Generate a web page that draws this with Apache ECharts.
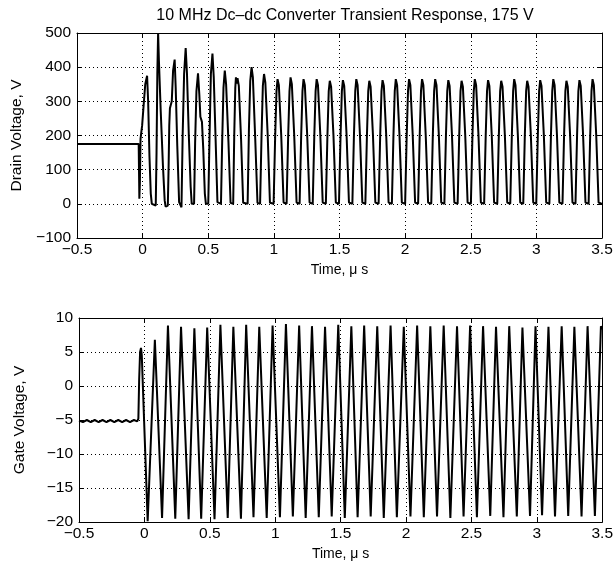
<!DOCTYPE html>
<html>
<head>
<meta charset="utf-8">
<script src="https://cdn.jsdelivr.net/npm/echarts@6/dist/echarts.min.js"></script>
<style>
html,body{margin:0;padding:0;background:#fff;}
#c{width:616px;height:569px;}
</style>
</head>
<body>
<div id="c"></div>
<script>
// ---- Data ----
var titleText = '10 MHz Dc\u2013dc Converter Transient Response, 175 V';
var timeName = 'Time, \u03bc s';
var drainName = 'Drain Voltage, V';
var gateName = 'Gate Voltage, V';

// time axis (µs)
var timeMin = -0.5, timeMax = 3.5, timeStep = 0.5;
// drain axis (V)
var drainMin = -100, drainMax = 500, drainStep = 100;
// gate axis (V)
var gateMin = -20, gateMax = 10, gateStep = 5;

// Drain voltage [time µs, V]
var drainData = [
[-0.5,175],[-0.03,175],[-0.027,80],[-0.025,15],[-0.021,60],[-0.016,190],[-0.010,210],[-0.004,228],[0.008,290],[0.020,350],[0.034,375],[0.042,300],[0.052,140],[0.062,30],[0.070,0],
[0.100,-5],[0.106,150],[0.112,380],[0.118,500],[0.124,420],[0.138,270],[0.155,110],[0.168,10],[0.175,-8],
[0.192,-5],[0.198,110],[0.203,230],[0.208,280],[0.216,275],[0.222,300],[0.232,390],[0.244,422],[0.252,340],[0.264,170],[0.278,5],
[0.296,-10],[0.305,200],[0.316,380],[0.328,456],[0.338,380],[0.352,200],[0.366,50],[0.374,0],
[0.392,0],[0.400,180],[0.410,330],[0.422,382],[0.432,320],[0.440,255],[0.452,240],[0.462,160],[0.474,30],[0.482,0],
[0.500,0],[0.510,200],[0.520,380],[0.532,440],[0.542,370],[0.556,190],[0.570,5],
[0.597,0],[0.606,180],[0.616,340],[0.626,390],[0.636,350],[0.654,180],[0.670,3],
[0.690,0],[0.698,200],[0.706,340],[0.711,370],[0.717,352],[0.723,368],[0.733,345],[0.750,190],[0.766,3],
[0.800,0],[0.810,220],[0.820,360],[0.830,400],[0.840,370],[0.858,190],[0.875,3],
[0.895,0],[0.906,200],[0.916,345],[0.925,380],[0.935,355],[0.953,200],[0.970,3],
[0.998,0],[1.010,200],[1.020,330],[1.028,365],[1.038,347],[1.056,200],[1.074,4],
[1.097,0],[1.109,200],[1.119,330],[1.127,370],[1.137,350],[1.155,200],[1.173,4],
[1.196,0],[1.208,200],[1.218,330],[1.226,365],[1.236,347],[1.254,200],[1.272,4],
[1.296,0],[1.308,200],[1.318,330],[1.326,365],[1.336,347],[1.354,200],[1.372,4],
[1.396,0],[1.408,200],[1.418,330],[1.426,360],[1.436,343],[1.454,200],[1.472,4],
[1.496,0],[1.508,200],[1.518,330],[1.526,362],[1.536,345],[1.554,200],[1.572,4],
[1.598,0],[1.610,200],[1.620,330],[1.628,365],[1.638,347],[1.656,200],[1.674,4],
[1.697,0],[1.709,200],[1.719,330],[1.727,360],[1.737,343],[1.755,200],[1.773,4],
[1.798,0],[1.810,200],[1.820,330],[1.828,362],[1.838,345],[1.856,200],[1.874,4],
[1.899,0],[1.911,200],[1.921,330],[1.929,365],[1.939,347],[1.957,200],[1.975,4],
[2.000,0],[2.012,200],[2.022,330],[2.030,365],[2.040,347],[2.058,200],[2.076,4],
[2.099,0],[2.111,200],[2.121,330],[2.129,365],[2.139,347],[2.157,200],[2.175,4],
[2.199,0],[2.211,200],[2.221,330],[2.229,365],[2.239,347],[2.257,200],[2.275,4],
[2.299,0],[2.311,200],[2.321,330],[2.329,362],[2.339,345],[2.357,200],[2.375,4],
[2.400,0],[2.412,200],[2.422,330],[2.430,360],[2.440,343],[2.458,200],[2.476,4],
[2.501,0],[2.513,200],[2.523,330],[2.531,365],[2.541,347],[2.559,200],[2.577,4],
[2.602,0],[2.614,200],[2.624,330],[2.632,362],[2.642,345],[2.660,200],[2.678,4],
[2.702,0],[2.714,200],[2.724,330],[2.732,360],[2.742,343],[2.760,200],[2.778,4],
[2.801,0],[2.813,200],[2.823,330],[2.831,365],[2.841,347],[2.859,200],[2.877,4],
[2.900,0],[2.912,200],[2.922,330],[2.930,360],[2.940,343],[2.958,200],[2.976,4],
[2.999,0],[3.011,200],[3.021,330],[3.029,362],[3.039,345],[3.057,200],[3.075,4],
[3.099,0],[3.111,200],[3.121,330],[3.129,365],[3.139,347],[3.157,200],[3.175,4],
[3.199,0],[3.211,200],[3.221,330],[3.229,360],[3.239,343],[3.257,200],[3.275,4],
[3.298,0],[3.310,200],[3.320,330],[3.328,362],[3.338,345],[3.356,200],[3.374,4],
[3.398,0],[3.410,200],[3.420,330],[3.428,365],[3.438,347],[3.456,200],[3.474,4],[3.5,0]
];

// Gate voltage [time µs, V]
var gateData = [
[-0.5,-5.1],[-0.47,-5.3],[-0.44,-5.0],[-0.41,-5.3],[-0.38,-5.0],[-0.35,-5.3],[-0.32,-5.0],[-0.29,-5.3],[-0.26,-5.0],[-0.23,-5.3],[-0.20,-5.0],[-0.17,-5.3],[-0.14,-5.0],[-0.11,-5.3],[-0.08,-5.0],[-0.055,-5.2],
[-0.046,-4.8],[-0.040,1.0],[-0.033,5.0],[-0.026,5.6],[-0.020,4.5],
[0.025,-19.9],[0.080,6.8],[0.135,-19.4],[0.180,8.9],[0.236,-19.5],[0.280,8.7],[0.338,-19.6],[0.382,8.5],[0.434,-19.5],[0.480,8.6],
[0.536,-19.6],[0.581,9.0],[0.637,-19.4],[0.680,8.7],[0.738,-19.5],[0.778,9.0],[0.834,-19.3],[0.878,8.7],[0.935,-19.4],[0.980,8.9],
[1.036,-19.3],[1.082,9.1],[1.135,-19.2],[1.183,8.9],[1.233,-19.4],[1.281,8.8],[1.333,-19.3],[1.381,8.7],[1.432,-19.2],[1.482,9.0],
[1.532,-19.4],[1.582,8.8],[1.630,-19.3],[1.680,8.9],[1.730,-19.2],[1.780,8.8],[1.830,-19.4],[1.882,8.9],[1.930,-19.3],[1.983,8.7],
[2.034,-19.2],[2.085,8.9],[2.136,-19.3],[2.186,8.8],[2.237,-19.2],[2.288,8.9],[2.339,-19.4],[2.390,8.8],[2.440,-19.2],[2.490,8.9],
[2.542,-19.3],[2.589,8.8],[2.644,-19.1],[2.688,8.7],[2.745,-19.3],[2.789,8.8],[2.847,-19.2],[2.890,8.6],[2.948,-19.1],[2.990,8.8],
[3.040,-19.0],[3.089,8.7],[3.139,-19.2],[3.190,8.8],[3.240,-19.1],[3.287,8.7],[3.342,-19.2],[3.388,8.8],[3.444,-19.1],[3.490,8.8],[3.5,8.3]
];

// ---- Chart ----
var FONT = 'Liberation Sans, Arial, Helvetica, sans-serif';
function fmt(v){ return String(v).replace('-', '\u2212'); }
var dotted = {show:true, lineStyle:{color:'#000', type:[1,3], width:1}};
var tickIn = {show:true, inside:true, length:5, lineStyle:{color:'#000', width:1}};
var axLine = {show:true, onZero:false, lineStyle:{color:'#000', width:1}};
var lab = {color:'#000', fontFamily:FONT, fontSize:15.5, formatter:fmt};

function xMain(gi){
  return {type:'value', gridIndex:gi, min:timeMin, max:timeMax, interval:timeStep, position:'bottom',
    name:timeName, nameLocation:'middle', nameGap:25,
    nameTextStyle:{color:'#000', fontFamily:FONT, fontSize:14},
    axisLine:axLine, axisTick:tickIn, axisLabel:Object.assign({margin:4}, lab), splitLine:dotted};
}
function xMirror(gi){
  return {type:'value', gridIndex:gi, min:timeMin, max:timeMax, interval:timeStep, position:'top',
    axisLine:axLine, axisTick:tickIn, axisLabel:{show:false}, splitLine:{show:false}};
}
function yMain(gi, mn, mx, st, nm, gap){
  return {type:'value', gridIndex:gi, min:mn, max:mx, interval:st, position:'left',
    name:nm, nameLocation:'middle', nameRotate:90, nameGap:gap,
    nameTextStyle:{color:'#000', fontFamily:FONT, fontSize:15.5},
    axisLine:axLine, axisTick:tickIn, axisLabel:Object.assign({margin:6}, lab), splitLine:dotted};
}
function yMirror(gi, mn, mx, st){
  return {type:'value', gridIndex:gi, min:mn, max:mx, interval:st, position:'right',
    axisLine:axLine, axisTick:tickIn, axisLabel:{show:false}, splitLine:{show:false}};
}

var chart = echarts.init(document.getElementById('c'), null, {renderer:'canvas'});
chart.setOption({
  animation:false,
  backgroundColor:'#fff',
  title:{text:titleText, left:340, top:3, textAlign:'center',
    textStyle:{color:'#000', fontFamily:FONT, fontSize:16, fontWeight:'normal'}},
  grid:[
    {left:77, top:33, width:525, height:205},
    {left:79, top:318, width:525, height:204}
  ],
  xAxis:[xMain(0), xMirror(0), xMain(1), xMirror(1)],
  yAxis:[yMain(0, drainMin, drainMax, drainStep, drainName, 49), yMirror(0, drainMin, drainMax, drainStep),
         yMain(1, gateMin, gateMax, gateStep, gateName, 51), yMirror(1, gateMin, gateMax, gateStep)],
  series:[
    {type:'line', xAxisIndex:0, yAxisIndex:0, data:drainData, showSymbol:false, silent:true,
      lineStyle:{color:'#000', width:2}, clip:true},
    {type:'line', xAxisIndex:2, yAxisIndex:2, data:gateData, showSymbol:false, silent:true,
      lineStyle:{color:'#000', width:2}, clip:true}
  ]
});
</script>
</body>
</html>
